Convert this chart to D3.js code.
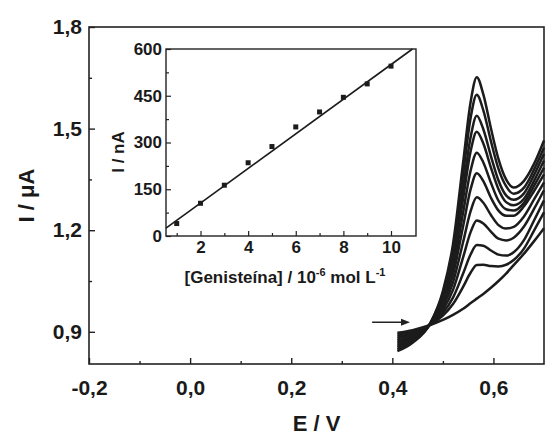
<!DOCTYPE html>
<html>
<head>
<meta charset="utf-8">
<script src="https://cdn.jsdelivr.net/npm/d3@7"></script>
<style>
  body { margin: 0; background: #fff; }
  text { font-family: "Liberation Sans", Arial, sans-serif; font-weight: bold; fill: #1a1a1a; }
</style>
</head>
<body>
<div id="chart"></div>
<script>
const width = 548;
const height = 438;

// potential axis of the voltammograms (V)
const potentials = [0.41, 0.44, 0.475, 0.50, 0.52, 0.54, 0.555, 0.567, 0.58, 0.595, 0.61, 0.625, 0.64, 0.66, 0.68, 0.70];

// current (uA), one array per addition of genisteína
const curve1  = [0.843, 0.868, 0.925, 1.020, 1.159, 1.400, 1.580, 1.652, 1.601, 1.501, 1.410, 1.350, 1.326, 1.345, 1.395, 1.465];
const curve2  = [0.848, 0.872, 0.925, 1.013, 1.143, 1.365, 1.533, 1.600, 1.554, 1.463, 1.381, 1.330, 1.308, 1.325, 1.378, 1.444];
const curve3  = [0.854, 0.875, 0.924, 1.005, 1.123, 1.324, 1.476, 1.538, 1.498, 1.419, 1.347, 1.303, 1.290, 1.308, 1.362, 1.426];
const curve4  = [0.859, 0.879, 0.924, 0.999, 1.108, 1.293, 1.434, 1.491, 1.456, 1.385, 1.321, 1.283, 1.274, 1.292, 1.345, 1.406];
const curve5  = [0.865, 0.882, 0.923, 0.991, 1.088, 1.252, 1.377, 1.429, 1.400, 1.340, 1.287, 1.262, 1.258, 1.280, 1.330, 1.385];
const curve6  = [0.870, 0.886, 0.923, 0.983, 1.068, 1.212, 1.322, 1.368, 1.345, 1.296, 1.258, 1.243, 1.243, 1.270, 1.315, 1.365];
const curve7  = [0.875, 0.889, 0.922, 0.974, 1.046, 1.165, 1.257, 1.297, 1.281, 1.245, 1.215, 1.205, 1.210, 1.240, 1.290, 1.341];
const curve8  = [0.881, 0.893, 0.922, 0.965, 1.024, 1.120, 1.195, 1.229, 1.220, 1.196, 1.175, 1.170, 1.178, 1.210, 1.262, 1.318];
const curve9  = [0.886, 0.896, 0.921, 0.956, 1.001, 1.072, 1.129, 1.156, 1.154, 1.140, 1.128, 1.125, 1.135, 1.170, 1.228, 1.288];
const curve10 = [0.892, 0.900, 0.921, 0.948, 0.982, 1.033, 1.075, 1.097, 1.098, 1.094, 1.093, 1.098, 1.112, 1.145, 1.198, 1.253];
const curve11 = [0.897, 0.905, 0.920, 0.935, 0.950, 0.968, 0.985, 0.998, 1.012, 1.030, 1.050, 1.072, 1.097, 1.130, 1.167, 1.206];
const curves = [curve1, curve2, curve3, curve4, curve5, curve6, curve7, curve8, curve9, curve10, curve11];

const xTicks = [-0.2, 0.0, 0.2, 0.4, 0.6];
const xMinor = [-0.1, 0.1, 0.3, 0.5];
const yTicks = [0.9, 1.2, 1.5, 1.8];
const yMinor = [1.05, 1.35, 1.65];

// inset: calibration curve
const conc = [1, 2, 3, 4, 5, 6, 7, 8, 9, 10];
const peakCurrent = [40, 105, 163, 235, 287, 350, 398, 445, 488, 545];
const fitX = [0.55, 10.9];
const fitY = [25, 600];
const insetXTicks = [2, 4, 6, 8, 10];
const insetXMinor = [1, 3, 5, 7, 9];
const insetYTicks = [0, 150, 300, 450, 600];
const insetYMinor = [75, 225, 375, 525];

const comma = d => d.toFixed(1).replace(".", ",");

const svg = d3.select("#chart").append("svg")
  .attr("width", width)
  .attr("height", height);

// main axes
const x = d3.scaleLinear().domain([-0.2, 0.70]).range([89, 544]);
const y = d3.scaleLinear().domain([0.805, 1.8]).range([364, 27]);

svg.append("g")
  .attr("transform", `translate(0,${y.range()[0]})`)
  .call(d3.axisBottom(x).tickValues(xTicks).tickFormat(comma).tickSize(-6).tickPadding(16))
  .call(g => g.select(".domain").remove())
  .call(g => g.selectAll("text").style("font-size", "21px"));
svg.append("g")
  .attr("transform", `translate(0,${y.range()[0]})`)
  .call(d3.axisBottom(x).tickValues(xMinor).tickFormat("").tickSize(-3))
  .call(g => g.select(".domain").remove());

svg.append("g")
  .attr("transform", `translate(${x.range()[0]},0)`)
  .call(d3.axisLeft(y).tickValues(yTicks).tickFormat(comma).tickSize(-6).tickPadding(7))
  .call(g => g.select(".domain").remove())
  .call(g => g.selectAll("text").style("font-size", "21px"));
svg.append("g")
  .attr("transform", `translate(${x.range()[0]},0)`)
  .call(d3.axisLeft(y).tickValues(yMinor).tickFormat("").tickSize(-3))
  .call(g => g.select(".domain").remove());

svg.selectAll(".tick line").attr("stroke", "#222").attr("stroke-width", 1.4);

svg.append("rect")
  .attr("x", x.range()[0])
  .attr("y", y.range()[1])
  .attr("width", x.range()[1] - x.range()[0])
  .attr("height", y.range()[0] - y.range()[1])
  .attr("fill", "none")
  .attr("stroke", "#222")
  .attr("stroke-width", 1.6);

svg.append("text")
  .attr("x", (x.range()[0] + x.range()[1]) / 2)
  .attr("y", 431)
  .attr("text-anchor", "middle")
  .style("font-size", "22px")
  .text("E / V");

svg.append("text")
  .attr("transform", `translate(34,${(y.range()[0] + y.range()[1]) / 2}) rotate(-90)`)
  .attr("text-anchor", "middle")
  .style("font-size", "22px")
  .text("I / μA");

// voltammograms
const line = d3.line()
  .x((d, i) => x(potentials[i]))
  .y(d => y(d))
  .curve(d3.curveMonotoneX);

svg.append("g")
  .selectAll("path")
  .data(curves)
  .enter()
  .append("path")
  .attr("d", line)
  .attr("fill", "none")
  .attr("stroke", "#1c1c1c")
  .attr("stroke-width", 2.5);

// arrow
const ay = y(0.928);
svg.append("line")
  .attr("x1", x(0.36)).attr("y1", ay)
  .attr("x2", x(0.425)).attr("y2", ay)
  .attr("stroke", "#222").attr("stroke-width", 1.5);
svg.append("path")
  .attr("d", `M${x(0.435)},${ay} l-9,-3.5 l0,7 z`)
  .attr("fill", "#222");

// inset
const ix = d3.scaleLinear().domain([0.55, 11.05]).range([166, 416]);
const iy = d3.scaleLinear().domain([0, 600]).range([236, 49]);

const inset = svg.append("g");

inset.append("rect")
  .attr("x", ix.range()[0])
  .attr("y", iy.range()[1])
  .attr("width", ix.range()[1] - ix.range()[0])
  .attr("height", iy.range()[0] - iy.range()[1])
  .attr("fill", "#fff")
  .attr("stroke", "#222")
  .attr("stroke-width", 1.4);

inset.append("g")
  .attr("transform", `translate(0,${iy.range()[0]})`)
  .call(d3.axisBottom(ix).tickValues(insetXTicks).tickSize(-5).tickPadding(5))
  .call(g => g.select(".domain").remove())
  .call(g => g.selectAll("text").style("font-size", "17px"));
inset.append("g")
  .attr("transform", `translate(0,${iy.range()[0]})`)
  .call(d3.axisBottom(ix).tickValues(insetXMinor).tickFormat("").tickSize(-3))
  .call(g => g.select(".domain").remove());
inset.append("g")
  .attr("transform", `translate(${ix.range()[0]},0)`)
  .call(d3.axisLeft(iy).tickValues(insetYTicks).tickSize(-5).tickPadding(4))
  .call(g => g.select(".domain").remove())
  .call(g => g.selectAll("text").style("font-size", "17px"));
inset.append("g")
  .attr("transform", `translate(${ix.range()[0]},0)`)
  .call(d3.axisLeft(iy).tickValues(insetYMinor).tickFormat("").tickSize(-3))
  .call(g => g.select(".domain").remove());

inset.selectAll(".tick line").attr("stroke", "#222").attr("stroke-width", 1.2);

inset.append("line")
  .attr("x1", ix(fitX[0])).attr("y1", iy(fitY[0]))
  .attr("x2", ix(fitX[1])).attr("y2", iy(fitY[1]))
  .attr("stroke", "#1c1c1c")
  .attr("stroke-width", 1.6);

inset.selectAll("rect.pt")
  .data(conc)
  .enter()
  .append("rect")
  .attr("class", "pt")
  .attr("x", (d) => ix(d) - 2.5)
  .attr("y", (d, i) => iy(peakCurrent[i]) - 2.5)
  .attr("width", 5)
  .attr("height", 5)
  .attr("fill", "#1c1c1c");

inset.append("text")
  .attr("transform", `translate(124,152) rotate(-90)`)
  .attr("text-anchor", "middle")
  .style("font-size", "17px")
  .text("I / nA");

const ttl = inset.append("text")
  .attr("x", 285)
  .attr("y", 283)
  .attr("text-anchor", "middle")
  .style("font-size", "17px");
ttl.append("tspan").text("[Genisteína] / 10");
ttl.append("tspan").attr("dy", -7).style("font-size", "11px").text("-6");
ttl.append("tspan").attr("dy", 7).text(" mol L");
ttl.append("tspan").attr("dy", -7).style("font-size", "11px").text("-1");
</script>
</body>
</html>
